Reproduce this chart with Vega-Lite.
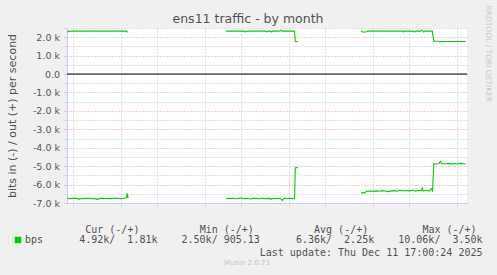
{
  "$schema": "https://vega.github.io/schema/vega-lite/v6.json",
  "width": 400,
  "height": 175,
  "autosize": {"type": "none"},
  "padding": {"left": 67, "top": 28, "right": 30, "bottom": 72},
  "background": "#f0f0f0",
  "title": {"text": "ens11 traffic - by month", "font": "DejaVu Sans", "fontSize": 12.5, "fontWeight": "normal", "color": "#505050", "anchor": "middle", "frame": "group", "dx": -19, "offset": -30, "baseline": "alphabetic"},
  "config": {
    "view": {"fill": "white", "stroke": null},
    "axis": {"labelFont": "DejaVu Sans", "labelFontSize": 9.5, "labelColor": "#555555", "domainColor": "#c9cdf6", "domainWidth": 1}
  },
  "resolve": {"axis": {"y": "independent"}, "scale": {"y": "shared"}},
  "layer": [
    {
      "data": {"values": [
        {"t": "2025-11-08T11:24", "v": 2260, "seg": "oA", "s": "bps"},
        {"t": "2025-11-08T14:00", "v": 2330, "seg": "oA", "s": "bps"},
        {"t": "2025-11-10T00:00", "v": 2330, "seg": "oA", "s": "bps"},
        {"t": "2025-11-12T00:00", "v": 2330, "seg": "oA", "s": "bps"},
        {"t": "2025-11-13T10:00", "v": 2330, "seg": "oA", "s": "bps"},
        {"t": "2025-11-13T13:30", "v": 2260, "seg": "oA", "s": "bps"},
        {"t": "2025-11-08T11:24", "v": -6740, "seg": "iA", "s": "bps"},
        {"t": "2025-11-08T18:00", "v": -6760, "seg": "iA", "s": "bps"},
        {"t": "2025-11-09T00:00", "v": -6740, "seg": "iA", "s": "bps"},
        {"t": "2025-11-09T06:00", "v": -6750, "seg": "iA", "s": "bps"},
        {"t": "2025-11-09T12:00", "v": -6790, "seg": "iA", "s": "bps"},
        {"t": "2025-11-09T18:00", "v": -6740, "seg": "iA", "s": "bps"},
        {"t": "2025-11-10T00:00", "v": -6760, "seg": "iA", "s": "bps"},
        {"t": "2025-11-10T06:00", "v": -6730, "seg": "iA", "s": "bps"},
        {"t": "2025-11-10T12:00", "v": -6770, "seg": "iA", "s": "bps"},
        {"t": "2025-11-10T18:00", "v": -6750, "seg": "iA", "s": "bps"},
        {"t": "2025-11-11T00:00", "v": -6800, "seg": "iA", "s": "bps"},
        {"t": "2025-11-11T06:00", "v": -6750, "seg": "iA", "s": "bps"},
        {"t": "2025-11-11T12:00", "v": -6740, "seg": "iA", "s": "bps"},
        {"t": "2025-11-11T18:00", "v": -6770, "seg": "iA", "s": "bps"},
        {"t": "2025-11-12T00:00", "v": -6740, "seg": "iA", "s": "bps"},
        {"t": "2025-11-12T06:00", "v": -6760, "seg": "iA", "s": "bps"},
        {"t": "2025-11-12T12:00", "v": -6730, "seg": "iA", "s": "bps"},
        {"t": "2025-11-12T18:00", "v": -6750, "seg": "iA", "s": "bps"},
        {"t": "2025-11-13T00:00", "v": -6770, "seg": "iA", "s": "bps"},
        {"t": "2025-11-13T06:00", "v": -6740, "seg": "iA", "s": "bps"},
        {"t": "2025-11-13T10:00", "v": -6720, "seg": "iA", "s": "bps"},
        {"t": "2025-11-13T12:00", "v": -6480, "seg": "iA", "s": "bps"},
        {"t": "2025-11-13T13:30", "v": -6740, "seg": "iA", "s": "bps"},
        {"t": "2025-11-21T17:00", "v": 2330, "seg": "oB", "s": "bps"},
        {"t": "2025-11-23T06:00", "v": 2330, "seg": "oB", "s": "bps"},
        {"t": "2025-11-23T08:00", "v": 2280, "seg": "oB", "s": "bps"},
        {"t": "2025-11-23T10:00", "v": 2330, "seg": "oB", "s": "bps"},
        {"t": "2025-11-25T01:00", "v": 2330, "seg": "oB", "s": "bps"},
        {"t": "2025-11-25T03:00", "v": 2280, "seg": "oB", "s": "bps"},
        {"t": "2025-11-25T05:00", "v": 2330, "seg": "oB", "s": "bps"},
        {"t": "2025-11-25T10:00", "v": 2330, "seg": "oB", "s": "bps"},
        {"t": "2025-11-25T12:00", "v": 2280, "seg": "oB", "s": "bps"},
        {"t": "2025-11-25T14:00", "v": 2330, "seg": "oB", "s": "bps"},
        {"t": "2025-11-26T05:00", "v": 2330, "seg": "oB", "s": "bps"},
        {"t": "2025-11-26T07:00", "v": 2380, "seg": "oB", "s": "bps"},
        {"t": "2025-11-26T09:00", "v": 2330, "seg": "oB", "s": "bps"},
        {"t": "2025-11-27T10:30", "v": 2330, "seg": "oB", "s": "bps"},
        {"t": "2025-11-27T12:00", "v": 1770, "seg": "oB", "s": "bps"},
        {"t": "2025-11-27T17:00", "v": 1770, "seg": "oB", "s": "bps"},
        {"t": "2025-11-21T17:00", "v": -6740, "seg": "iB", "s": "bps"},
        {"t": "2025-11-22T00:00", "v": -6760, "seg": "iB", "s": "bps"},
        {"t": "2025-11-22T06:00", "v": -6740, "seg": "iB", "s": "bps"},
        {"t": "2025-11-22T12:00", "v": -6770, "seg": "iB", "s": "bps"},
        {"t": "2025-11-22T18:00", "v": -6750, "seg": "iB", "s": "bps"},
        {"t": "2025-11-23T00:00", "v": -6730, "seg": "iB", "s": "bps"},
        {"t": "2025-11-23T06:00", "v": -6760, "seg": "iB", "s": "bps"},
        {"t": "2025-11-23T12:00", "v": -6740, "seg": "iB", "s": "bps"},
        {"t": "2025-11-23T18:00", "v": -6780, "seg": "iB", "s": "bps"},
        {"t": "2025-11-24T00:00", "v": -6750, "seg": "iB", "s": "bps"},
        {"t": "2025-11-24T06:00", "v": -6740, "seg": "iB", "s": "bps"},
        {"t": "2025-11-24T12:00", "v": -6770, "seg": "iB", "s": "bps"},
        {"t": "2025-11-24T18:00", "v": -6730, "seg": "iB", "s": "bps"},
        {"t": "2025-11-25T00:00", "v": -6760, "seg": "iB", "s": "bps"},
        {"t": "2025-11-25T06:00", "v": -6750, "seg": "iB", "s": "bps"},
        {"t": "2025-11-25T12:00", "v": -6790, "seg": "iB", "s": "bps"},
        {"t": "2025-11-25T18:00", "v": -6740, "seg": "iB", "s": "bps"},
        {"t": "2025-11-26T00:00", "v": -6760, "seg": "iB", "s": "bps"},
        {"t": "2025-11-26T06:00", "v": -6740, "seg": "iB", "s": "bps"},
        {"t": "2025-11-26T10:00", "v": -6870, "seg": "iB", "s": "bps"},
        {"t": "2025-11-26T14:00", "v": -6740, "seg": "iB", "s": "bps"},
        {"t": "2025-11-26T18:00", "v": -6770, "seg": "iB", "s": "bps"},
        {"t": "2025-11-27T00:00", "v": -6740, "seg": "iB", "s": "bps"},
        {"t": "2025-11-27T06:00", "v": -6760, "seg": "iB", "s": "bps"},
        {"t": "2025-11-27T10:30", "v": -6750, "seg": "iB", "s": "bps"},
        {"t": "2025-11-27T12:00", "v": -5090, "seg": "iB", "s": "bps"},
        {"t": "2025-11-27T17:00", "v": -5080, "seg": "iB", "s": "bps"},
        {"t": "2025-12-02T23:30", "v": 2330, "seg": "oC", "s": "bps"},
        {"t": "2025-12-03T02:00", "v": 2280, "seg": "oC", "s": "bps"},
        {"t": "2025-12-03T10:00", "v": 2280, "seg": "oC", "s": "bps"},
        {"t": "2025-12-03T12:00", "v": 2330, "seg": "oC", "s": "bps"},
        {"t": "2025-12-06T10:00", "v": 2330, "seg": "oC", "s": "bps"},
        {"t": "2025-12-06T12:00", "v": 2280, "seg": "oC", "s": "bps"},
        {"t": "2025-12-06T14:00", "v": 2330, "seg": "oC", "s": "bps"},
        {"t": "2025-12-07T08:00", "v": 2330, "seg": "oC", "s": "bps"},
        {"t": "2025-12-07T10:00", "v": 2280, "seg": "oC", "s": "bps"},
        {"t": "2025-12-07T12:00", "v": 2330, "seg": "oC", "s": "bps"},
        {"t": "2025-12-07T23:00", "v": 2330, "seg": "oC", "s": "bps"},
        {"t": "2025-12-08T01:00", "v": 2380, "seg": "oC", "s": "bps"},
        {"t": "2025-12-08T03:00", "v": 2330, "seg": "oC", "s": "bps"},
        {"t": "2025-12-08T05:00", "v": 2280, "seg": "oC", "s": "bps"},
        {"t": "2025-12-08T07:00", "v": 2330, "seg": "oC", "s": "bps"},
        {"t": "2025-12-08T22:00", "v": 2330, "seg": "oC", "s": "bps"},
        {"t": "2025-12-09T01:00", "v": 1780, "seg": "oC", "s": "bps"},
        {"t": "2025-12-09T11:00", "v": 1780, "seg": "oC", "s": "bps"},
        {"t": "2025-12-09T13:30", "v": 1730, "seg": "oC", "s": "bps"},
        {"t": "2025-12-09T16:00", "v": 1770, "seg": "oC", "s": "bps"},
        {"t": "2025-12-11T17:00", "v": 1770, "seg": "oC", "s": "bps"},
        {"t": "2025-12-02T23:30", "v": -6450, "seg": "iC", "s": "bps"},
        {"t": "2025-12-03T06:00", "v": -6450, "seg": "iC", "s": "bps"},
        {"t": "2025-12-03T10:00", "v": -6360, "seg": "iC", "s": "bps"},
        {"t": "2025-12-03T18:00", "v": -6350, "seg": "iC", "s": "bps"},
        {"t": "2025-12-04T00:00", "v": -6370, "seg": "iC", "s": "bps"},
        {"t": "2025-12-04T06:00", "v": -6340, "seg": "iC", "s": "bps"},
        {"t": "2025-12-04T12:00", "v": -6360, "seg": "iC", "s": "bps"},
        {"t": "2025-12-04T18:00", "v": -6330, "seg": "iC", "s": "bps"},
        {"t": "2025-12-05T00:00", "v": -6350, "seg": "iC", "s": "bps"},
        {"t": "2025-12-05T06:00", "v": -6380, "seg": "iC", "s": "bps"},
        {"t": "2025-12-05T12:00", "v": -6340, "seg": "iC", "s": "bps"},
        {"t": "2025-12-05T18:00", "v": -6330, "seg": "iC", "s": "bps"},
        {"t": "2025-12-06T00:00", "v": -6360, "seg": "iC", "s": "bps"},
        {"t": "2025-12-06T06:00", "v": -6300, "seg": "iC", "s": "bps"},
        {"t": "2025-12-06T12:00", "v": -6350, "seg": "iC", "s": "bps"},
        {"t": "2025-12-06T18:00", "v": -6320, "seg": "iC", "s": "bps"},
        {"t": "2025-12-07T00:00", "v": -6340, "seg": "iC", "s": "bps"},
        {"t": "2025-12-07T06:00", "v": -6300, "seg": "iC", "s": "bps"},
        {"t": "2025-12-07T12:00", "v": -6360, "seg": "iC", "s": "bps"},
        {"t": "2025-12-07T18:00", "v": -6320, "seg": "iC", "s": "bps"},
        {"t": "2025-12-08T00:00", "v": -6330, "seg": "iC", "s": "bps"},
        {"t": "2025-12-08T02:00", "v": -6180, "seg": "iC", "s": "bps"},
        {"t": "2025-12-08T04:00", "v": -6340, "seg": "iC", "s": "bps"},
        {"t": "2025-12-08T10:00", "v": -6310, "seg": "iC", "s": "bps"},
        {"t": "2025-12-08T16:00", "v": -6350, "seg": "iC", "s": "bps"},
        {"t": "2025-12-08T20:00", "v": -6220, "seg": "iC", "s": "bps"},
        {"t": "2025-12-08T22:30", "v": -6340, "seg": "iC", "s": "bps"},
        {"t": "2025-12-09T01:00", "v": -4860, "seg": "iC", "s": "bps"},
        {"t": "2025-12-09T06:00", "v": -4880, "seg": "iC", "s": "bps"},
        {"t": "2025-12-09T11:00", "v": -4870, "seg": "iC", "s": "bps"},
        {"t": "2025-12-09T14:00", "v": -4740, "seg": "iC", "s": "bps"},
        {"t": "2025-12-09T17:00", "v": -4860, "seg": "iC", "s": "bps"},
        {"t": "2025-12-10T00:00", "v": -4880, "seg": "iC", "s": "bps"},
        {"t": "2025-12-10T06:00", "v": -4850, "seg": "iC", "s": "bps"},
        {"t": "2025-12-10T12:00", "v": -4890, "seg": "iC", "s": "bps"},
        {"t": "2025-12-10T18:00", "v": -4860, "seg": "iC", "s": "bps"},
        {"t": "2025-12-11T00:00", "v": -4880, "seg": "iC", "s": "bps"},
        {"t": "2025-12-11T06:00", "v": -4850, "seg": "iC", "s": "bps"},
        {"t": "2025-12-11T12:00", "v": -4870, "seg": "iC", "s": "bps"},
        {"t": "2025-12-11T17:00", "v": -4880, "seg": "iC", "s": "bps"}
      ]},
      "mark": {"type": "line", "strokeWidth": 1.1},
      "encoding": {
        "x": {
          "field": "t", "type": "temporal",
          "scale": {"domain": [{"year": 2025, "month": 11, "date": 8, "hours": 11, "minutes": 24}, {"year": 2025, "month": 12, "date": 11, "hours": 19, "minutes": 24}]},
          "axis": {
            "values": [
              {"year": 2025, "month": 11, "date": 9}, {"year": 2025, "month": 11, "date": 10}, {"year": 2025, "month": 11, "date": 11},
              {"year": 2025, "month": 11, "date": 12}, {"year": 2025, "month": 11, "date": 13}, {"year": 2025, "month": 11, "date": 13, "hours": 12},
              {"year": 2025, "month": 11, "date": 14}, {"year": 2025, "month": 11, "date": 15}, {"year": 2025, "month": 11, "date": 16},
              {"year": 2025, "month": 11, "date": 17}, {"year": 2025, "month": 11, "date": 18}, {"year": 2025, "month": 11, "date": 19},
              {"year": 2025, "month": 11, "date": 20}, {"year": 2025, "month": 11, "date": 20, "hours": 12}, {"year": 2025, "month": 11, "date": 21},
              {"year": 2025, "month": 11, "date": 22}, {"year": 2025, "month": 11, "date": 23}, {"year": 2025, "month": 11, "date": 24},
              {"year": 2025, "month": 11, "date": 25}, {"year": 2025, "month": 11, "date": 26}, {"year": 2025, "month": 11, "date": 27},
              {"year": 2025, "month": 11, "date": 27, "hours": 12}, {"year": 2025, "month": 11, "date": 28}, {"year": 2025, "month": 11, "date": 29},
              {"year": 2025, "month": 11, "date": 30}, {"year": 2025, "month": 12, "date": 1}, {"year": 2025, "month": 12, "date": 2},
              {"year": 2025, "month": 12, "date": 3}, {"year": 2025, "month": 12, "date": 4}, {"year": 2025, "month": 12, "date": 4, "hours": 12},
              {"year": 2025, "month": 12, "date": 5}, {"year": 2025, "month": 12, "date": 6}, {"year": 2025, "month": 12, "date": 7},
              {"year": 2025, "month": 12, "date": 8}, {"year": 2025, "month": 12, "date": 9}, {"year": 2025, "month": 12, "date": 10},
              {"year": 2025, "month": 12, "date": 11}, {"year": 2025, "month": 12, "date": 11, "hours": 12}
            ],
            "labelExpr": "hours(datum.value) == 12 ? 'Week ' + timeFormat(datum.value, '%V') : ''",
            "labelOverlap": false, "labelFlush": false, "labelBound": false, "labelAngle": 0, "labelPadding": 5.5,
            "grid": true, "gridDash": [1, 2],
            "gridColor": {"condition": {"test": "day(datum.value) == 1", "value": "#e69a9a"}, "value": "#c2c2c2"},
            "gridOpacity": {"condition": {"test": "hours(datum.value) == 12", "value": 0}, "value": 1},
            "tickColor": {"condition": {"test": "day(datum.value) == 1", "value": "#e69a9a"}, "value": "#c2c2c2"},
            "tickOpacity": {"condition": {"test": "hours(datum.value) == 12", "value": 0}, "value": 1},
            "tickSize": 3, "tickDash": [1, 1],
            "title": "Last update: Thu Dec 11 17:00:24 2025",
            "titleFont": "DejaVu Sans Mono", "titleFontSize": 10, "titleFontWeight": "normal", "titleColor": "#505050",
            "titleX": 415, "titleY": 52.5, "titleAlign": "right", "titleBaseline": "alphabetic", "titleAnchor": "end"
          }
        },
        "y": {
          "field": "v", "type": "quantitative",
          "scale": {"domain": [-7000, 2500], "nice": false, "zero": false},
          "axis": {
            "orient": "left",
            "values": [-7000, -6500, -6000, -5500, -5000, -4500, -4000, -3500, -3000, -2500, -2000, -1500, -1000, -500, 0, 500, 1000, 1500, 2000, 2500],
            "labelExpr": "datum.value % 1000 == 0 ? (datum.value == 0 ? '0.0' : (datum.value < 0 ? '-' : '') + format(abs(datum.value) / 1000, '.1f') + ' k') : ''",
            "labelOverlap": false, "labelPadding": 4.5,
            "grid": true, "gridDash": [1, 2],
            "gridColor": {"condition": {"test": "datum.value % 1000 == 0", "value": "#e69a9a"}, "value": "#c2c2c2"},
            "tickColor": {"condition": {"test": "datum.value % 1000 == 0", "value": "#e69a9a"}, "value": "#c2c2c2"},
            "tickSize": 3, "tickDash": [1, 1],
            "title": "bits in (-) / out (+) per second",
            "titleFont": "DejaVu Sans", "titleFontSize": 11, "titleFontWeight": "normal", "titleColor": "#505050",
            "titleAngle": -90, "titleX": -52, "titleY": 87.5, "titleAlign": "center", "titleBaseline": "alphabetic"
          }
        },
        "detail": {"field": "seg"},
        "color": {
          "field": "s", "type": "nominal",
          "scale": {"range": ["#00cc00"]},
          "legend": {
            "orient": "none", "legendX": -54, "legendY": 197, "padding": 0,
            "title": "\u200b\u00a0\u00a0\u00a0\u00a0\u00a0\u00a0\u00a0\u00a0\u00a0\u00a0\u00a0\u00a0Cur (-/+)\u00a0\u00a0\u00a0\u00a0\u00a0\u00a0\u00a0\u00a0\u00a0\u00a0Min (-/+)\u00a0\u00a0\u00a0\u00a0\u00a0\u00a0\u00a0\u00a0\u00a0\u00a0Avg (-/+)\u00a0\u00a0\u00a0\u00a0\u00a0\u00a0\u00a0\u00a0\u00a0Max (-/+)",
            "titleFont": "DejaVu Sans Mono", "titleFontSize": 10, "titleFontWeight": "normal", "titleColor": "#505050", "titleLimit": 1000, "titlePadding": 0,
            "labelFont": "DejaVu Sans Mono", "labelFontSize": 10, "labelColor": "#505050", "labelLimit": 1000, "labelOffset": 2,
            "labelExpr": "'bps\u00a0\u00a0\u00a0\u00a0\u00a0\u00a04.92k/\u00a0\u00a01.81k\u00a0\u00a0\u00a0\u00a02.50k/\u00a0905.13\u00a0\u00a0\u00a0\u00a0\u00a0\u00a06.36k/\u00a0\u00a02.25k\u00a0\u00a0\u00a0\u00a010.06k/\u00a0\u00a03.50k'",
            "symbolType": "square", "symbolSize": 42, "symbolFillColor": "#00cc00", "symbolStrokeColor": "#00cc00", "symbolStrokeWidth": 0
          }
        }
      }
    },
    {
      "data": {"values": [{"z": 0}]},
      "mark": {"type": "rule", "color": "#000000", "strokeWidth": 1},
      "encoding": {
        "y": {
          "field": "z", "type": "quantitative",
          "axis": {
            "orient": "right", "labels": false, "ticks": false, "domain": false, "grid": false,
            "title": "RRDTOOL / TOBI OETIKER",
            "titleFont": "DejaVu Sans", "titleFontSize": 7.5, "titleFontWeight": "normal", "titleColor": "#c8c8c8",
            "titleAngle": 90, "titleAlign": "left", "titleBaseline": "middle", "titleX": 20, "titleY": -23
          }
        }
      }
    },
    {
      "data": {"values": [{"t": "2025-11-20T00:00", "v": 0, "f": "Munin 2.0.73"}]},
      "mark": {"type": "point", "opacity": 0},
      "encoding": {
        "x": {"field": "t", "type": "temporal"},
        "y": {"field": "v", "type": "quantitative", "axis": null},
        "shape": {
          "field": "f", "type": "nominal",
          "legend": {
            "orient": "none", "legendX": 150, "legendY": 231, "padding": 0, "title": null,
            "symbolSize": 0, "symbolOpacity": 0, "symbolStrokeWidth": 0, "labelOffset": 0,
            "labelFont": "DejaVu Sans", "labelFontSize": 7, "labelColor": "#c4c4c4"
          }
        }
      }
    }
  ]
}
